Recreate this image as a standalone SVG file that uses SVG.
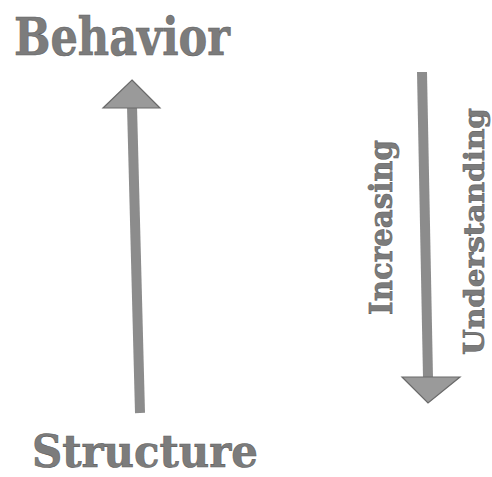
<svg xmlns="http://www.w3.org/2000/svg" width="492" height="477" viewBox="0 0 492 477">
<style>
.lbl{font-family:"DejaVu Serif","Liberation Serif","Times New Roman",serif;font-weight:bold;fill:#7c7c7c;stroke:#5e5e5e;stroke-width:0.6}
.shaft{stroke:#8c8c8c;stroke-width:10;fill:none}
.head{fill:#9a9a9a;stroke:#6a6a6a;stroke-width:1.2;stroke-linejoin:miter}
</style>
<rect width="492" height="477" fill="#ffffff"/>
<g id="behavior">
<text class="lbl" x="14" y="55" font-size="52" textLength="216" lengthAdjust="spacingAndGlyphs">Behavior</text>
</g>
<g id="structure">
<text class="lbl" x="32" y="467" font-size="44" textLength="226" lengthAdjust="spacingAndGlyphs">Structure</text>
</g>
<g id="increasing">
<text class="lbl" transform="translate(392,315) rotate(-90)" x="0" y="0" font-size="32" textLength="175" lengthAdjust="spacingAndGlyphs">Increasing</text>
</g>
<g id="understanding">
<text class="lbl" transform="translate(484,355) rotate(-90)" x="0" y="0" font-size="27" textLength="247" lengthAdjust="spacingAndGlyphs">Understanding</text>
</g>
<g id="connectors">
<line class="shaft" x1="132" y1="106" x2="140" y2="413"/>
<polygon class="head" points="132,80 160,108 103,108"/>
<line class="shaft" x1="422" y1="72" x2="428" y2="378"/>
<polygon class="head" points="402,377 460,377 428,403"/>
</g>
</svg>
